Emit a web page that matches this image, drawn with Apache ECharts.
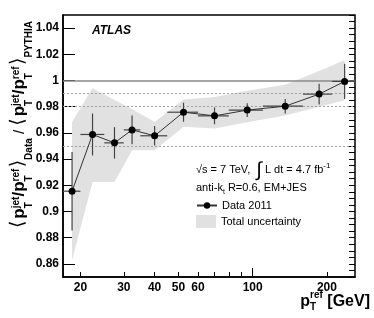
<!DOCTYPE html>
<html><head><meta charset="utf-8">
<script src="https://cdn.jsdelivr.net/npm/echarts@6/dist/echarts.min.js"></script>
<style>html,body{margin:0;padding:0;background:#fff;}#c{width:374px;height:318px;}</style>
</head><body><div id="c"></div>
<script>
// ---- data ----
const ptMean   = [18.5, 22.4, 27.5, 32.4, 40.0, 52.4, 70.0, 95.0, 135.5, 186.0, 236.0];
const binLow   = [17, 20, 25, 30, 35, 45, 60, 80, 110, 160, 210];
const binHigh  = [20, 25, 30, 35, 45, 60, 80, 110, 160, 210, 260];
const ratio    = [0.9155, 0.9588, 0.9524, 0.9623, 0.9578, 0.9758, 0.9730, 0.9774, 0.9804, 0.9896, 0.9993];
const statErr  = [0.030, 0.016, 0.012, 0.011, 0.0075, 0.0073, 0.0064, 0.0053, 0.0055, 0.008, 0.0135];
const bandLow  = [0.8628, 0.9226, 0.9226, 0.9468, 0.9468, 0.9646, 0.9634, 0.9681, 0.9733, 0.9800, 0.9850];
const bandHigh = [0.9684, 0.9940, 0.9852, 0.9782, 0.9684, 0.9855, 0.9875, 0.9921, 0.9967, 1.0073, 1.0156];
const refLines = [0.99, 0.98, 0.95];
const yTickLabels = [0.86, 0.88, 0.9, 0.92, 0.94, 0.96, 0.98, 1, 1.02, 1.04];
const yMinorTicks = [0.85,0.855,0.86,0.865,0.87,0.875,0.88,0.885,0.89,0.895,0.9,0.905,0.91,0.915,0.92,0.925,0.93,0.935,0.94,0.945,0.95,0.955,0.96,0.965,0.97,0.975,0.98,0.985,0.99,0.995,1,1.005,1.01,1.015,1.02,1.025,1.03,1.035,1.04,1.045,1.05];
const xTickLabels = [20, 30, 40, 50, 60, 100, 200];
const xShortTicks = [20, 30, 40, 50, 60, 70, 80, 90, 200];
const xLongTicks  = [100];

const FONT = '"Liberation Sans", Arial, Helvetica, sans-serif';
const chart = echarts.init(document.getElementById('c'), null, {renderer: 'canvas'});

const mctx = document.createElement('canvas').getContext('2d');
function mathPieces(pieces) {
  let x = 0, gStart = 0, gW = 0;
  const children = [];
  pieces.forEach(p => {
    const font = (p.w || 'bold') + ' ' + p.s + 'px ' + (p.fam || FONT);
    mctx.font = font;
    const wd = mctx.measureText(p.t).width;
    let px;
    if (p.stack) { px = gStart; x = gStart + Math.max(gW, wd); }
    else { px = x; gStart = x; gW = wd; x += wd; }
    children.push({type: 'text', x: px, y: (p.dy || 0) - 0.34 * p.s,
      style: {text: p.t, font: font, fill: '#000', align: 'left', verticalAlign: 'middle'}});
  });
  return {children, width: x};
}
const M = 17, S = 10, BS = 19, SUP = -5.5, SUB = 8, BR = '"DejaVu Sans", "Noto Sans", sans-serif';
const yTitle = mathPieces([
  {t: '\u27E8', s: BS, w: 'normal', fam: BR},
  {t: ' ', s: 7},
  {t: 'p', s: M}, {t: 'jet', s: S, dy: SUP}, {t: 'T', s: S, dy: SUB, stack: true},
  {t: '/', s: M},
  {t: 'p', s: M}, {t: 'ref', s: S, dy: SUP}, {t: 'T', s: S, dy: SUB, stack: true},
  {t: ' ', s: 5},
  {t: '\u27E9', s: BS, w: 'normal', fam: BR},
  {t: 'Data', s: S, dy: SUB},
  {t: ' / ', s: 15, w: 'normal'},
  {t: '\u27E8', s: BS, w: 'normal', fam: BR},
  {t: ' ', s: 7},
  {t: 'p', s: M}, {t: 'jet', s: S, dy: SUP}, {t: 'T', s: S, dy: SUB, stack: true},
  {t: '/', s: M},
  {t: 'p', s: M}, {t: 'ref', s: S, dy: SUP}, {t: 'T', s: S, dy: SUB, stack: true},
  {t: ' ', s: 5},
  {t: '\u27E9', s: BS, w: 'normal', fam: BR},
  {t: 'PYTHIA', s: S, dy: SUB}
]);
const xTitle = mathPieces([
  {t: 'p', s: 16}, {t: 'ref', s: 10, dy: -8}, {t: 'T', s: 10, dy: 4, stack: true},
  {t: ' [GeV]', s: 16}
]);

const legendText = {fontFamily: FONT, fontSize: 11, color: '#000'};
const option = {
  animation: false,
  backgroundColor: '#fff',
  grid: {left: 63, top: 15, width: 292, height: 262, show: true, borderColor: '#000', borderWidth: 1.5, backgroundColor: 'transparent'},
  xAxis: [
    {type: 'log', logBase: 10, min: 17, max: 260, position: 'bottom',
     axisLine: {show: true, lineStyle: {color: '#000', width: 1.5}},
     axisTick: {show: true, inside: true, length: 5, customValues: xShortTicks, lineStyle: {color: '#000', width: 1}},
     axisLabel: {show: true, customValues: xTickLabels, color: '#000', fontFamily: FONT, fontWeight: 'bold', fontSize: 12, margin: 5},
     splitLine: {show: false}, minorTick: {show: false}},
    {type: 'log', logBase: 10, min: 17, max: 260, position: 'bottom',
     axisLine: {show: false},
     axisTick: {show: true, inside: true, length: 9, customValues: xLongTicks, lineStyle: {color: '#000', width: 1}},
     axisLabel: {show: false}, splitLine: {show: false}}
  ],
  yAxis: [
    {type: 'value', min: 0.85, max: 1.05,
     axisLine: {show: true, lineStyle: {color: '#000', width: 1.5}},
     axisTick: {show: true, inside: true, length: 12, customValues: yTickLabels, lineStyle: {color: '#000', width: 1}},
     axisLabel: {show: true, customValues: yTickLabels, color: '#000', fontFamily: FONT, fontWeight: 'bold', fontSize: 12, margin: 4,
       formatter: v => String(+(+v).toFixed(2))},
     splitLine: {show: false}},
    {type: 'value', min: 0.85, max: 1.05,
     axisLine: {show: false},
     axisTick: {show: true, inside: true, length: 6, customValues: yMinorTicks, lineStyle: {color: '#000', width: 1}},
     axisLabel: {show: false}, splitLine: {show: false}}
  ],
  legend: [
    {left: 196, top: 200, itemWidth: 20, itemHeight: 8, selectedMode: false, padding: 0,
     textStyle: legendText, data: [{name: 'Data 2011'}]},
    {left: 196, top: 215, itemWidth: 20, itemHeight: 13, selectedMode: false, padding: 0,
     textStyle: legendText, data: [{name: 'Total uncertainty', icon: 'rect'}]}
  ],
  series: [
    {type: 'custom', name: 'Total uncertainty', xAxisIndex: 0, yAxisIndex: 0, z: 1,
     itemStyle: {color: '#e1e1e1'},
     data: ptMean.map((x, i) => [x, bandLow[i], bandHigh[i]]),
     encode: {x: 0, y: [1, 2]},
     renderItem: (params, api) => {
       if (params.dataIndex !== 0) return {type: 'group', children: []};
       const pts = [];
       for (let i = 0; i < ptMean.length; i++) pts.push(api.coord([ptMean[i], bandHigh[i]]));
       for (let i = ptMean.length - 1; i >= 0; i--) pts.push(api.coord([ptMean[i], bandLow[i]]));
       return {type: 'polygon', shape: {points: pts}, style: {fill: '#e1e1e1'}};
     }},
    {type: 'custom', name: 'errors', xAxisIndex: 0, yAxisIndex: 0, z: 3,
     data: ptMean.map((x, i) => [x, ratio[i], binLow[i], binHigh[i], statErr[i]]),
     encode: {x: 0, y: 1},
     renderItem: (params, api) => {
       const x = api.value(0), y = api.value(1), lo = api.value(2), hi = api.value(3), e = api.value(4);
       const pL = api.coord([lo, y]), pR = api.coord([hi, y]);
       const pT = api.coord([x, y + e]), pB = api.coord([x, y - e]);
       return {type: 'group', children: [
         {type: 'line', shape: {x1: pL[0], y1: pL[1], x2: pR[0], y2: pR[1]}, style: {stroke: '#444', lineWidth: 1.2}},
         {type: 'line', shape: {x1: pT[0], y1: pT[1], x2: pB[0], y2: pB[1]}, style: {stroke: '#444', lineWidth: 1.2}}
       ]};
     }},
    {type: 'line', name: 'Data 2011', xAxisIndex: 0, yAxisIndex: 0, z: 4,
     data: ptMean.map((x, i) => [x, ratio[i]]),
     symbol: 'circle', symbolSize: 7, itemStyle: {color: '#000'},
     lineStyle: {color: '#333', width: 1},
     markLine: {symbol: 'none', silent: true, label: {show: false}, z: 2,
       data: [{yAxis: 1, lineStyle: {color: '#888', width: 1.5, type: 'solid'}}]
         .concat(refLines.map(v => ({yAxis: v, lineStyle: {color: '#a0a0a0', width: 1, type: [2, 2]}})))
     }}
  ],
  graphic: [
    {type: 'text', x: 92, y: 31, style: {text: 'ATLAS', font: 'italic bold 12px ' + FONT, fill: '#000', verticalAlign: 'middle'}},
    {type: 'text', x: 196, y: 170, style: {
      text: '{a|\u221As = 7 TeV,  }{i|\u222B}{a| L dt = 4.7 fb}{s|-1}',
      verticalAlign: 'middle',
      rich: {a: {font: '11px ' + FONT, fill: '#000', verticalAlign: 'middle', lineHeight: 16},
             i: {font: '20px ' + FONT, fill: '#000', verticalAlign: 'middle', lineHeight: 16},
             s: {font: '8px ' + FONT, fill: '#000', verticalAlign: 'top', lineHeight: 16}}}},
    {type: 'text', x: 196, y: 189, style: {
      text: '{a|anti-k}{s|t}{a| R=0.6, EM+JES}',
      verticalAlign: 'middle',
      rich: {a: {font: '11px ' + FONT, fill: '#000', verticalAlign: 'top', lineHeight: 14},
             s: {font: '7px ' + FONT, fill: '#000', verticalAlign: 'bottom', lineHeight: 14}}}},
    {type: 'group', x: 25, y: 228, rotation: Math.PI / 2, children: yTitle.children},
    {type: 'group', x: 370 - xTitle.width, y: 307, children: xTitle.children}
  ]
};
chart.setOption(option);
</script>
</body></html>
